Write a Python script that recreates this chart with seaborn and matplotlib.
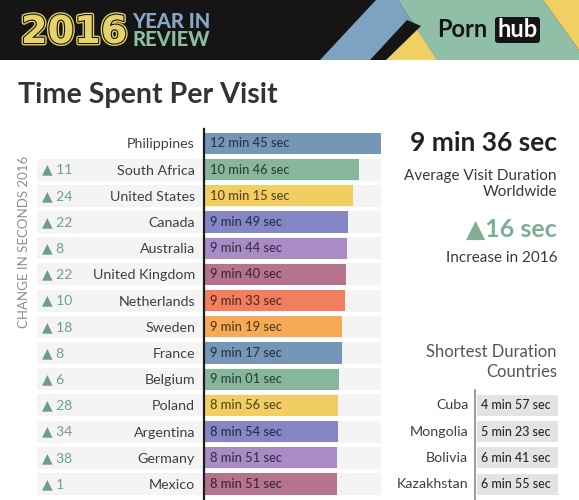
import matplotlib
matplotlib.use("Agg")
import matplotlib.pyplot as plt
import matplotlib.transforms as mtransforms
import matplotlib.patheffects as pe
from matplotlib.patches import Rectangle, Polygon, FancyBboxPatch
import matplotlib.colors as mcolors
import pandas as pd
import seaborn as sns

# ---------------- data ----------------
countries = ["Philippines", "South Africa", "United States", "Canada", "Australia",
             "United Kingdom", "Netherlands", "Sweden", "France", "Belgium",
             "Poland", "Argentina", "Germany", "Mexico"]
minutes = [12, 10, 10, 9, 9, 9, 9, 9, 9, 9, 8, 8, 8, 8]
seconds = [45, 46, 15, 49, 44, 40, 33, 19, 17, 1, 56, 54, 51, 51]
change_2016 = [None, 11, 24, 22, 8, 22, 10, 18, 8, 6, 28, 34, 38, 1]

short_countries = ["Cuba", "Mongolia", "Bolivia", "Kazakhstan"]
short_minutes = [4, 5, 6, 6]
short_seconds = [57, 23, 41, 55]

avg_minutes, avg_seconds = 9, 36
avg_increase_sec = 16

palette_cycle = ["#7596b6", "#86b79c", "#f1cd62", "#8486c5",
                 "#a98bc6", "#b6738e", "#f27e60", "#f6aa56"]

# ---------------- style ----------------
sns.set_style("white")
plt.rcParams["font.family"] = ["Lato", "DejaVu Sans"]

W, H = 579, 500
fig = plt.figure(figsize=(W / 100, H / 100), dpi=100)
fig.patch.set_facecolor("white")

# background / decoration axes in pixel coordinates
bg = fig.add_axes([0, 0, 1, 1])
bg.set_xlim(0, W)
bg.set_ylim(H, 0)
bg.axis("off")

# header banner
bg.add_patch(Rectangle((0, 0), W, 60, color="#151515", lw=0))
bg.add_patch(Polygon([(320, 60), (376, 0), (398, 0), (437, 60)], closed=True, color="#7ea2c1", lw=0))
bg.add_patch(Polygon([(398, 0), (543, 0), (579, 50), (579, 60), (437, 60)], closed=True, color="#8fbfa6", lw=0))
bg.add_patch(Polygon([(543, 0), (579, 0), (579, 50)], closed=True, color="#f0cf63", lw=0))
bg.add_patch(Polygon([(386, 60), (417, 29), (437, 60)], closed=True, color="#f0cf63", lw=0))
bg.add_patch(Polygon([(370, 60), (386, 60), (421, 26), (407, 20)], closed=True, color="#151515", lw=0))

gold = "#e6d36a"
bg.text(21, 43, "2016", ha="left", va="baseline", fontsize=27.5, weight="bold", color=gold,
        family="DejaVu Sans",
        path_effects=[pe.Stroke(linewidth=3.5, foreground=gold),
                      pe.Stroke(linewidth=1.6, foreground="#151515"),
                      pe.Normal()])
bg.text(132, 27.5, "YEAR IN", ha="left", va="baseline", fontsize=14.5, weight="black", color="#86a8c6")
bg.text(132, 46, "REVIEW", ha="left", va="baseline", fontsize=14.5, weight="black", color="#8cbea3")

bg.text(437, 37, "Porn", ha="left", va="baseline", fontsize=17, weight="bold", color="#151515")
bg.add_patch(FancyBboxPatch((495, 17), 45, 26, boxstyle="round,pad=0,rounding_size=3",
                            color="#151515", lw=0))
bg.text(517.5, 37, "hub", ha="center", va="baseline", fontsize=17, weight="bold", color="white")

# title
bg.text(18, 103, "Time Spent Per Visit", ha="left", va="baseline", fontsize=20.6,
        weight="bold", color="#333333")

# vertical label
bg.text(24, 242, "CHANGE IN SECONDS 2016", rotation=90, ha="center", va="center",
        fontsize=9.5, color="#8f8f8f")

# right panel summary
bg.text(557, 143, f"{avg_minutes} min {avg_seconds} sec", ha="right", va="center",
        fontsize=19, weight="bold", color="#222222")
bg.text(557, 176, "Average Visit Duration", ha="right", va="center", fontsize=11, color="#3a3a3a")
bg.text(557, 192, "Worldwide", ha="right", va="center", fontsize=11, color="#3a3a3a")
bg.text(557, 229, f"\u25B2{avg_increase_sec} sec", ha="right", va="center",
        fontsize=18, weight="bold", color="#7fae94")
bg.text(557, 258, "Increase in 2016", ha="right", va="center", fontsize=11, color="#3a3a3a")
bg.text(557, 352, "Shortest Duration", ha="right", va="center", fontsize=12, color="#555555")
bg.text(557, 372, "Countries", ha="right", va="center", fontsize=12, color="#555555")

# ---------------- main bar chart ----------------
total = [m * 60 + s for m, s in zip(minutes, seconds)]
df = pd.DataFrame({"country": countries, "total": total})
colors = [palette_cycle[i % len(palette_cycle)] for i in range(len(countries))]

X0 = -176.5  # visual baseline of the bars
ax = fig.add_axes([204 / W, 0, (381 - 204) / W, (500 - 129) / H])
ax.set_facecolor("none")
sns.barplot(data=df, x="total", y="country", hue="country", palette=colors,
            legend=False, width=0.81, saturation=1, orient="h", ax=ax, zorder=2)
for p in ax.patches:
    w = p.get_width()
    p.set_x(X0)
    p.set_width(w - X0)
    p.set_linewidth(0)

ax.set_xlim(X0, max(total))
ax.set_ylim(13.61, -0.55)
ax.set_xticks([])
ax.set_xlabel("")
ax.set_ylabel("")
for s in ["top", "right", "bottom"]:
    ax.spines[s].set_visible(False)
ax.spines["left"].set_color("#1e1e1e")
ax.spines["left"].set_linewidth(1.6)
ax.tick_params(axis="y", length=0, pad=6.5, labelsize=10.3, labelcolor="#404040")

trans = mtransforms.blended_transform_factory(bg.transData, ax.transData)
for i in range(1, len(countries)):
    ax.add_patch(Rectangle((37, i - 0.42), 344, 0.84, transform=trans, color="#f4f4f4",
                           lw=0, zorder=0, clip_on=False))

for i, c in enumerate(change_2016):
    if c is not None:
        ax.text(42, i, f"\u25B2 {c}", transform=trans, ha="left", va="center",
                fontsize=10, color="#6e9f83", clip_on=False)

for i, (m, s) in enumerate(zip(minutes, seconds)):
    rgb = mcolors.to_rgb(colors[i])
    dark = tuple(v * 0.35 for v in rgb)
    ax.annotate(f"{m} min {s:02d} sec", xy=(X0, i), xytext=(6, 0), textcoords="offset pixels",
                ha="left", va="center", fontsize=9.3, weight="medium", color=dark, zorder=3)

# ---------------- shortest duration table ----------------
ax2 = fig.add_axes([475 / W, 0, (558 - 475) / W, (500 - 390) / H])
ax2.set_facecolor("none")
ax2.set_xlim(0, 1)
ax2.set_ylim(13.61, 9.41)
ax2.set_xticks([])
ax2.set_yticks([])
for s in ["top", "right", "bottom"]:
    ax2.spines[s].set_visible(False)
ax2.spines["left"].set_color("#8a8a8a")
ax2.spines["left"].set_linewidth(1.2)
start = len(countries) - len(short_countries)
for j, (name, m, s) in enumerate(zip(short_countries, short_minutes, short_seconds)):
    row = start + j
    ax2.axhspan(row - 0.4, row + 0.4, xmin=0.025, xmax=1, color="#e3e3e3", lw=0)
    ax2.text(0.07, row, f"{m} min {s:02d} sec", ha="left", va="center", fontsize=9.0,
             weight="medium", color="#2a2a2a")
    ax2.text(-0.08, row, name, ha="right", va="center", fontsize=10.3, color="#404040",
             clip_on=False)

fig.savefig("out.png", dpi=100, facecolor="white")
